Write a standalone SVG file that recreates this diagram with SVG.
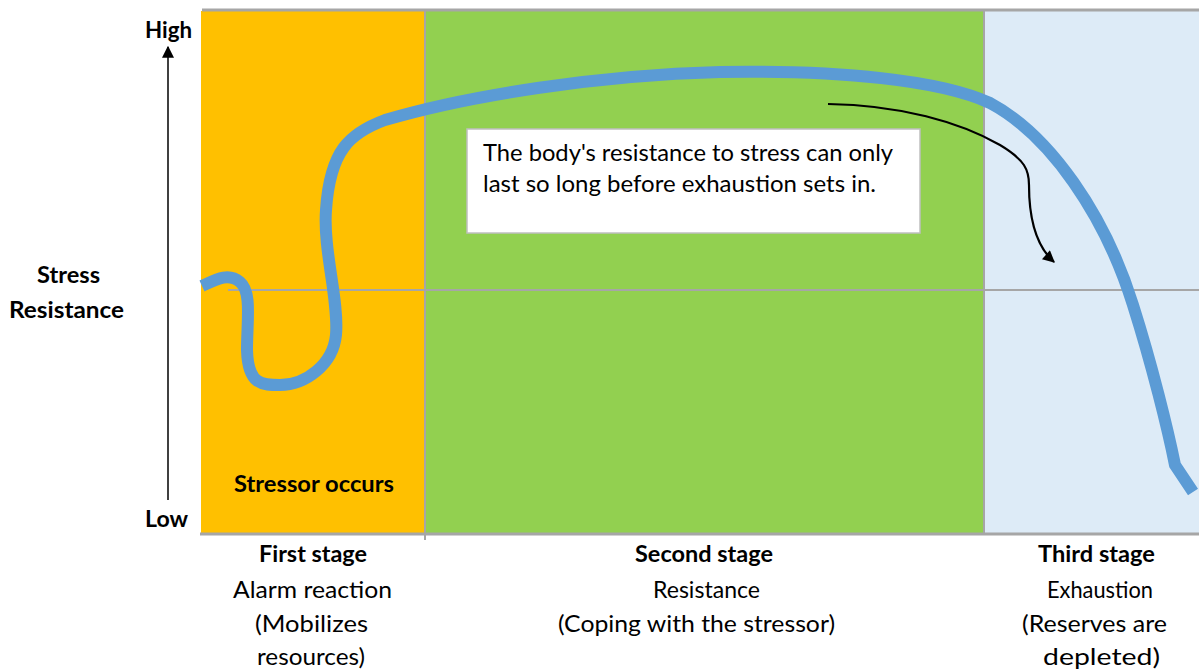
<svg xmlns="http://www.w3.org/2000/svg" width="1199" height="672" viewBox="0 0 1199 672">
<defs>
<style>
text{font-family:Lato,"Open Sans","Liberation Sans",sans-serif;fill:#000;font-size:22.5px}
.b{font-weight:bold}
.grid{stroke:#A6A6A6;fill:none}
</style>
<marker id="ah" viewBox="0 0 10 10" refX="9" refY="5" markerWidth="12" markerHeight="12" markerUnits="userSpaceOnUse" orient="auto"><path d="M0,0 L10,5 L0,10 Z" fill="#000"/></marker>
<marker id="ah2" viewBox="0 0 10 10" refX="9" refY="5" markerWidth="14" markerHeight="12" markerUnits="userSpaceOnUse" orient="auto"><path d="M0,0 L10,5 L0,10 Z" fill="#000"/></marker>
</defs>
<g id="stage1"><rect x="201" y="11" width="224" height="522" fill="#FFC000"/></g>
<g id="stage2"><rect x="425" y="11" width="559" height="522" fill="#92D050"/></g>
<g id="stage3"><rect x="984" y="11" width="215" height="522" fill="#DDEBF7"/></g>
<g id="grid">
<line class="grid" x1="202" y1="10" x2="1199" y2="10" stroke-width="3"/>
<line class="grid" x1="425" y1="11" x2="425" y2="540" stroke-width="2"/>
<line class="grid" x1="984" y1="11" x2="984" y2="533" stroke-width="2"/>
<line class="grid" x1="228" y1="290" x2="1199" y2="290" stroke-width="2"/>
<line class="grid" x1="200" y1="534" x2="1199" y2="534" stroke-width="3"/>
</g>
<g id="axis">
<line x1="168" y1="500" x2="168" y2="47" stroke="#000" stroke-width="1.5" marker-end="url(#ah)"/>
<text class="b" x="145" y="38" textLength="47" lengthAdjust="spacingAndGlyphs">High</text>
<text class="b" x="145" y="527" textLength="43" lengthAdjust="spacingAndGlyphs">Low</text>
<text class="b" x="37" y="283" textLength="63" lengthAdjust="spacingAndGlyphs">Stress</text>
<text class="b" x="9" y="318" textLength="115" lengthAdjust="spacingAndGlyphs">Resistance</text>
</g>
<g id="curve">
<path d="M202,286 C215,280 228,272 240,282 C252,292 247,320 247,350 C248,385 262,385 280,385 C305,385 333,365 336,335 C339,300 323,250 326,210 C330,150 350,133 385,120 C470,95 600,75 720,72 C840,70 940,80 990,103 C1050,135 1105,215 1133,305 C1152,365 1168,430 1175,465 L1193,492" fill="none" stroke="#5B9BD5" stroke-width="12"/>
</g>
<g id="callout">
<rect x="467" y="129" width="453" height="104" fill="#fff" stroke="#BFBFBF" stroke-width="1.5"/>
<text x="483" y="161" textLength="410" lengthAdjust="spacingAndGlyphs">The body's resistance to stress can only</text>
<text x="483" y="192" textLength="393" lengthAdjust="spacingAndGlyphs">last so long before exhaustion sets in.</text>
</g>
<g id="connectors">
<path d="M828,104 C900,105 960,122 1000,145 C1025,160 1029,170 1029,185 C1029,215 1035,245 1054,262" fill="none" stroke="#000" stroke-width="2.2" marker-end="url(#ah2)"/>
</g>
<g id="labels">
<text class="b" x="234" y="492" textLength="160" lengthAdjust="spacingAndGlyphs">Stressor occurs</text>
<text class="b" x="259" y="562" textLength="108" lengthAdjust="spacingAndGlyphs">First stage</text>
<text x="233" y="598" textLength="159" lengthAdjust="spacingAndGlyphs">Alarm reaction</text>
<text x="255" y="632" textLength="113" lengthAdjust="spacingAndGlyphs">(Mobilizes</text>
<text x="257" y="665" textLength="108" lengthAdjust="spacingAndGlyphs">resources)</text>
<text class="b" x="635" y="562" textLength="138" lengthAdjust="spacingAndGlyphs">Second stage</text>
<text x="653" y="598" textLength="107" lengthAdjust="spacingAndGlyphs">Resistance</text>
<text x="558" y="632" textLength="277" lengthAdjust="spacingAndGlyphs">(Coping with the stressor)</text>
<text class="b" x="1038" y="562" textLength="117" lengthAdjust="spacingAndGlyphs">Third stage</text>
<text x="1047" y="598" textLength="106" lengthAdjust="spacingAndGlyphs">Exhaustion</text>
<text x="1022" y="632" textLength="145" lengthAdjust="spacingAndGlyphs">(Reserves are</text>
<text x="1043" y="665" textLength="117" lengthAdjust="spacingAndGlyphs">depleted)</text>
</g>
</svg>
